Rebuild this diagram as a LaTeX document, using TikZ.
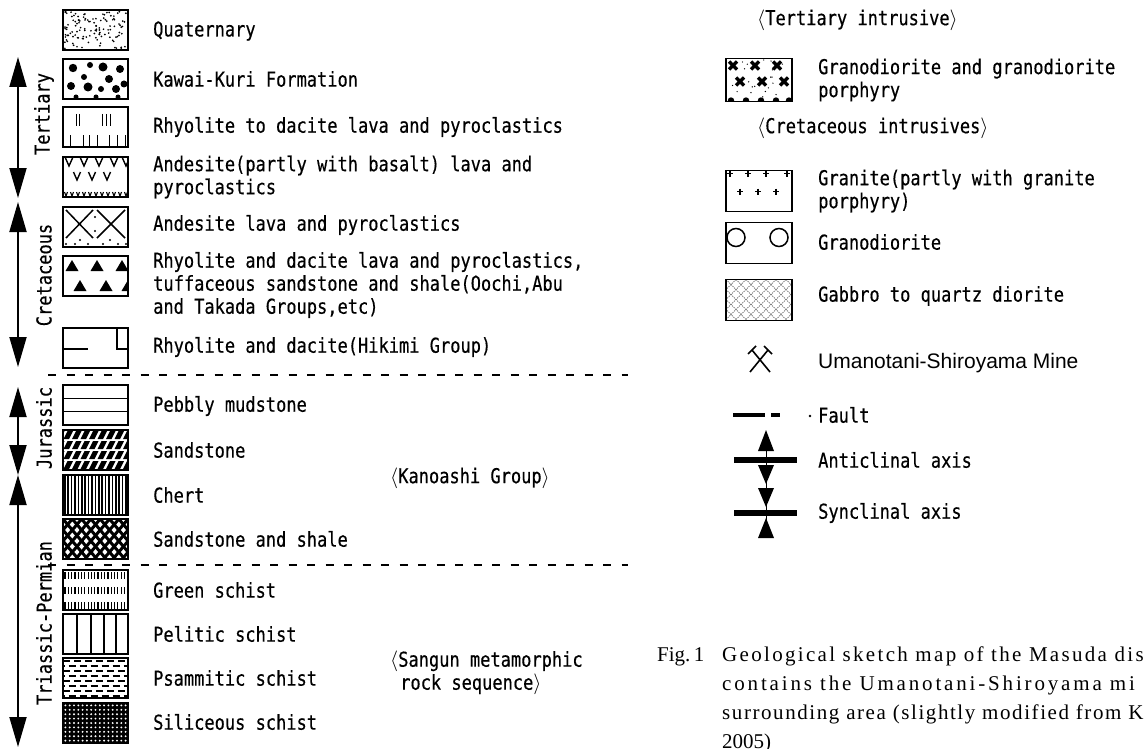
\documentclass[tikz,border=0pt]{standalone}
\usepackage{fontspec}
\setmainfont{Liberation Serif}
\newfontfamily\gfont[FakeStretch=0.83,FakeBold=0.4]{DejaVu Sans Mono}
\newfontfamily\afont{Liberation Sans}
\newfontfamily\capA[LetterSpace=11]{Liberation Serif}
\newfontfamily\capB[LetterSpace=13.5]{Liberation Serif}
\newfontfamily\capC[LetterSpace=7.5]{Liberation Serif}
\usetikzlibrary{arrows.meta}

% pattern box: #1 style, #2 name, #3 x, #4 y, #5 pattern (local coords, origin top-left, y down)
\newcommand\pbox[5]{%
  \node[#1] (#2) at (#3,#4) {};
  \begin{scope}
    \clip (#2.north west) rectangle (#2.south east);
    \begin{scope}[shift={(#2.north west)}]#5\end{scope}
  \end{scope}
  \draw[boxline] (#2.north west) rectangle (#2.south east);
}

\newcommand\patQuat{\pgfmathsetseed{11}\foreach \i in {1,...,120}{\fill ({1.5+62*rnd},{1.5+37*rnd}) circle (0.95);}}
\newcommand\patKawai{\foreach \a/\b/\r in {10/9/4.2,27/6/3,40/8/4.5,57/10/4,21/18/3,46/20/4,61/25/3.5,8/27/4,25/28/4.5,38/30/3,53/30/4,13/38/2.5,33/38/2.5,55/38/2.5}{\fill (\a,\b) circle (\r);}}
\newcommand\patRhy{\foreach \a in {13,16,39,43,47}{\draw[line width=1pt] (\a,7)--(\a,19);}\foreach \a in {7,20,26,34,46,54,62}{\draw[line width=1pt] (\a,28)--(\a,40);}}
\newcommand\patAndB{\foreach \a in {6,21,36,51,63}{\draw[line width=1.4pt] ({\a-4},0)--(\a,9)--({\a+4},0);}\foreach \a in {14,29,44}{\draw[line width=1.4pt] ({\a-3.5},15)--(\a,23)--({\a+3.5},15);}\foreach \a in {3,9,...,63}{\draw[line width=1.1pt] ({\a-1.5},35)--(\a,39)--({\a+1.5},35);}}
\newcommand\patAnd{\draw[line width=1.5pt] (3,3)--(30,31) (30,3)--(3,31) (34,3)--(62,31) (62,3)--(34,31);\foreach \a/\b in {32/10,32/24,17/33,47/33,3/37,12/37,25/37,40/37,55/37,63/37}{\fill (\a,\b) circle (1.2);}}
\newcommand\patTri{\foreach \a/\b in {9/4,34/4,59/4,17/24,43/24,65/24}{\fill (\a,\b)--({\a+6.5},{\b+11})--({\a-6.5},{\b+11})--cycle;}}
\newcommand\patHik{\draw[line width=1.4pt] (0,21)--(25,21) (54,0)--(54,21)--(65,21);}
\newcommand\patPeb{\draw[line width=1.4pt] (0,13.3)--(65,13.3) (0,26.7)--(65,26.7);}
\newcommand\patSand{\foreach \r in {1,11,21,31}{\foreach \a in {-8,0.5,...,66}{\fill (\a,{\r+8})--({\a+5.5},{\r+8})--({\a+9.5},\r)--({\a+4},\r)--cycle;}}}
\newcommand\patChert{\foreach \a in {1.7,5.1,...,64}{\draw[line width=1.6pt] (\a,0)--(\a,40);}}
\newcommand\patSS{\foreach \k in {-6,...,12}{\draw[line width=3pt] ({\k*9.3},0)--({\k*9.3+33.8},40) ({\k*9.3},0)--({\k*9.3-33.8},40);}}
\newcommand\patGreen{\foreach \r in {2,17,32}{\foreach \a in {2,5.3,...,64}{\draw[line width=1.2pt] (\a,\r)--(\a,{\r+7});}}}
\newcommand\patPel{\foreach \a in {14,28,41,53}{\draw[line width=1.6pt] (\a,0)--(\a,40);}}
\newcommand\patPsa{\foreach \r in {3,13,23,33}{\draw[line width=1.3pt,dash pattern=on 7pt off 4pt] (0,\r)--(65,\r);}\foreach \r in {8,18,28,38}{\draw[line width=1.3pt,dash pattern=on 7pt off 4pt,dash phase=5.5pt] (0,\r)--(65,\r);}}
\newcommand\patSil{\fill (0,0) rectangle (65,40);\foreach \i in {0,...,14}{\foreach \j in {0,...,8}{\fill[white] ({2.4+4.3*\i},{2.4+4.4*\j}) circle (1.05);}}}
\newcommand\patGdp{\foreach \a/\b in {7/7,29/7,51/7,14/23,36/23,58/23}{\draw[line width=3.4pt] ({\a-4},{\b-4})--({\a+4},{\b+4}) ({\a-4},{\b+4})--({\a+4},{\b-4});}\foreach \a in {5,20,35,50,63}{\fill (\a,42) circle (3.2);}\pgfmathsetseed{5}\foreach \i in {1,...,25}{\fill ({1+64*rnd},{1+40*rnd}) circle (0.7);}}
\newcommand\patGra{\foreach \a/\b in {4/3,22/3,40/3,61/3,14/21,32/21,50/21}{\draw[line width=1.8pt] ({\a-3},\b)--({\a+3},\b) (\a,{\b-3})--(\a,{\b+3});}}
\newcommand\patCir{\draw[line width=1.5pt] (10,15) circle (9) (53,15) circle (9);}
\newcommand\patGab{\foreach \k in {-5,...,12}{\draw[black!75,line width=0.6pt,dash pattern=on 1.3pt off 1pt] ({\k*10},0)--({\k*10+40},40) ({\k*10},0)--({\k*10-40},40);}}

\begin{document}
\begin{tikzpicture}[x=1pt,y=-1pt,
  lbox/.style={minimum width=65pt,minimum height=40pt,inner sep=0pt,outer sep=0pt},
  rbox/.style={minimum width=66pt,minimum height=41pt,inner sep=0pt,outer sep=0pt},
  rboxt/.style={minimum width=66pt,minimum height=43pt,inner sep=0pt,outer sep=0pt},
  boxline/.style={line width=1.8pt},
  lbl/.style={anchor=west,inner sep=0pt,align=left,font=\gfont\fontsize{20.5}{23}\selectfont},
  agelbl/.style={inner sep=0pt,rotate=90,font=\gfont\fontsize{20.5}{23}\selectfont},
  minelbl/.style={anchor=west,inner sep=0pt,font=\afont\fontsize{21}{24}\selectfont},
  captxt/.style={anchor=base west,inner sep=0pt,font=\fontsize{21}{28}\selectfont},
  agearrow/.style={line width=1.8pt,{Triangle[length=30pt,width=17pt]}-{Triangle[length=30pt,width=17pt]}},
  bound/.style={line width=2pt,dash pattern=on 8pt off 10.5pt},
  axisbar/.style={line width=6pt},
]
\useasboundingbox (0,0) rectangle (1145,749);

% ---------- left legend boxes
\pbox{lbox}{b1}{95.5}{30}{\patQuat}
\pbox{lbox}{b2}{95.5}{79}{\patKawai}
\pbox{lbox}{b3}{95.5}{127}{\patRhy}
\pbox{lbox}{b4}{95.5}{177}{\patAndB}
\pbox{lbox}{b5}{95.5}{227}{\patAnd}
\pbox{lbox}{b6}{95.5}{276}{\patTri}
\pbox{lbox}{b7}{95.5}{348}{\patHik}
\pbox{lbox}{b8}{95.5}{405}{\patPeb}
\pbox{lbox}{b9}{95.5}{450}{\patSand}
\pbox{lbox}{b10}{95.5}{495}{\patChert}
\pbox{lbox}{b11}{95.5}{539}{\patSS}
\pbox{lbox}{b12}{95.5}{590}{\patGreen}
\pbox{lbox}{b13}{95.5}{634}{\patPel}
\pbox{lbox}{b14}{95.5}{678}{\patPsa}
\pbox{lbox}{b15}{95.5}{723}{\patSil}

% ---------- left labels
\node[lbl] (l1)  at (153,31)  {Quaternary};
\node[lbl] (l2)  at (153,79)  {Kawai-Kuri Formation};
\node[lbl] (l3)  at (153,127) {Rhyolite to dacite lava and pyroclastics};
\node[lbl] (l4)  at (153,177) {Andesite(partly with basalt) lava and\\pyroclastics};
\node[lbl] (l5)  at (153,225) {Andesite lava and pyroclastics};
\node[lbl] (l6)  at (153,285) {Rhyolite and dacite lava and pyroclastics,\\tuffaceous sandstone and shale(Oochi,Abu\\and Takada Groups,etc)};
\node[lbl] (l7)  at (153,347) {Rhyolite and dacite(Hikimi Group)};
\node[lbl] (l8)  at (153,406) {Pebbly mudstone};
\node[lbl] (l9)  at (153,450) {Sandstone};
\node[lbl] (l10) at (153,495) {Chert};
\node[lbl] (l11) at (153,539) {Sandstone and shale};
\node[lbl] (l12) at (153,590) {Green schist};
\node[lbl] (l13) at (153,634) {Pelitic schist};
\node[lbl] (l14) at (153,678) {Psammitic schist};
\node[lbl] (l15) at (153,722) {Siliceous schist};
\node[lbl] (kan) at (390,478) {$\langle$Kanoashi Group$\rangle$};
\node[lbl] (san) at (390,673) {$\langle$Sangun metamorphic\\\hspace*{10pt}rock sequence$\rangle$};

% ---------- age arrows
\coordinate (a1) at (18,57);  \coordinate (a2) at (18,198);
\coordinate (a3) at (18,202); \coordinate (a4) at (18,367);
\coordinate (a5) at (18,387); \coordinate (a6) at (18,475);
\coordinate (a7) at (18,475); \coordinate (a8) at (18,747);
\draw[agearrow] (a1) -- (a2);
\draw[agearrow] (a3) -- (a4);
\draw[agearrow] (a5) -- (a6);
\draw[agearrow] (a7) -- (a8);
\node[agelbl] (g1) at (44,114) {Tertiary};
\node[agelbl] (g2) at (44,275) {Cretaceous};
\node[agelbl] (g3) at (44,428) {Jurassic};
\node[agelbl] (g4) at (44,623) {Triassic-Permian};

% ---------- boundaries
\coordinate (d1a) at (48,375); \coordinate (d1b) at (628,375);
\coordinate (d2a) at (48,565); \coordinate (d2b) at (628,565);
\draw[bound] (d1a) -- (d1b);
\draw[bound] (d2a) -- (d2b);

% ---------- right legend
\node[lbl] (hT) at (757,20) {$\langle$Tertiary intrusive$\rangle$};
\pbox{rboxt}{r1}{759}{80}{\patGdp}
\node[lbl] (t1) at (818,80) {Granodiorite and granodiorite\\porphyry};
\node[lbl] (hC) at (757,128) {$\langle$Cretaceous intrusives$\rangle$};
\pbox{rbox}{r2}{759}{191}{\patGra}
\node[lbl] (t2) at (818,191) {Granite(partly with granite\\porphyry)};
\pbox{rbox}{r3}{759}{243}{\patCir}
\node[lbl] (t3) at (818,242) {Granodiorite};
\pbox{rbox}{r4}{759}{300}{\patGab}
\node[lbl] (t4) at (818,296) {Gabbro to quartz diorite};

% mine symbol
\coordinate (m1) at (750,372); \coordinate (m2) at (768,350);
\coordinate (m3) at (770,372); \coordinate (m4) at (752,350);
\draw[line width=1.6pt] (m1) -- (m2) (m3) -- (m4);
\draw[line width=1.6pt] (764,346) -- (772,354) (748,354) -- (756,346);
\node[minelbl] (t5) at (818,363) {Umanotani-Shiroyama Mine};

% fault
\coordinate (f1) at (733,415); \coordinate (f2) at (765,415);
\coordinate (f3) at (771,415); \coordinate (f4) at (780,415);
\draw[line width=3.2pt] (f1) -- (f2) (f3) -- (f4);
\fill (810,416) circle (1.3);
\node[lbl] (t6) at (818,415) {Fault};

% anticlinal
\coordinate (ab1) at (734,460); \coordinate (ab2) at (797,460);
\draw[axisbar] (ab1) -- (ab2);
\draw[line width=1pt] (766,440) -- (766,500);
\fill (766,430) -- (774,451) -- (758,451) -- cycle;
\fill (758,465) -- (774,465) -- (766,484) -- cycle;
\node[lbl] (t7) at (818,460) {Anticlinal axis};

% synclinal
\coordinate (sb1) at (734,513); \coordinate (sb2) at (797,513);
\draw[axisbar] (sb1) -- (sb2);
\draw[line width=1pt] (766,500) -- (766,530);
\fill (758,488) -- (774,488) -- (766,507) -- cycle;
\fill (766,518) -- (774,538) -- (758,538) -- cycle;
\node[lbl] (t8) at (818,513) {Synclinal axis};

% ---------- caption
\node[captxt] (c0) at (657,661) {Fig.\,1};
\node[captxt,font=\capA\fontsize{21}{28}\selectfont] (c1) at (722,661) {Geological sketch map of the Masuda dis};
\node[captxt,font=\capB\fontsize{21}{28}\selectfont] (c2) at (722,690) {contains the Umanotani-Shiroyama mi};
\node[captxt,font=\capC\fontsize{21}{28}\selectfont] (c3) at (722,719) {surrounding area (slightly modified from K};
\node[captxt] (c4) at (722,748) {2005)};
\end{tikzpicture}
\end{document}
